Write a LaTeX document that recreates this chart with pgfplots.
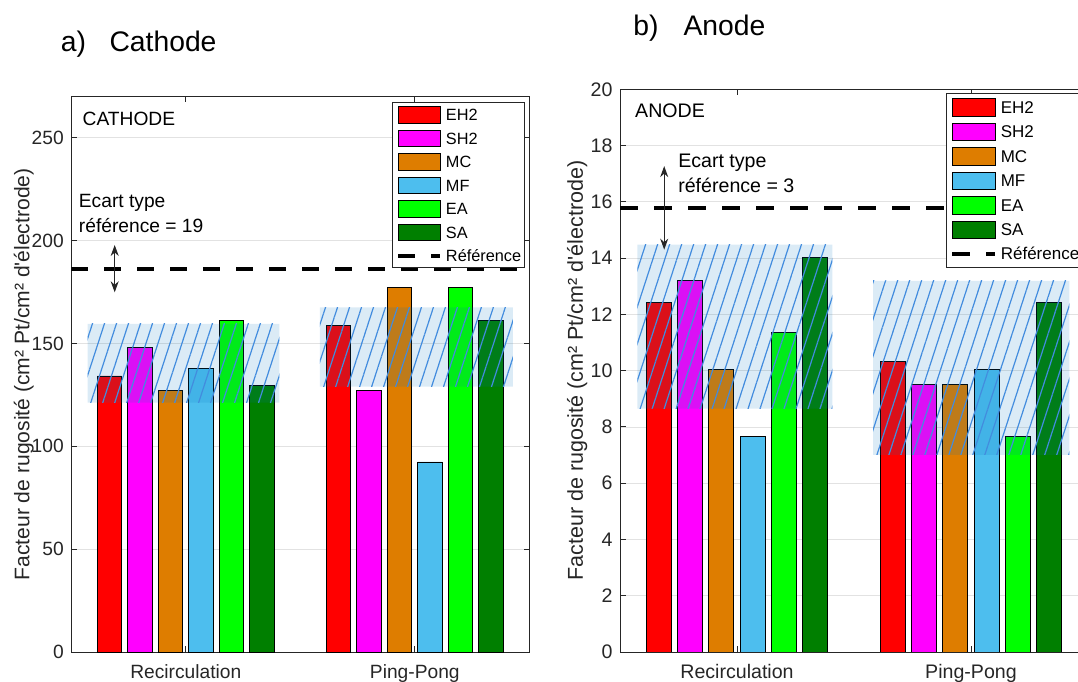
\documentclass[border=0pt]{standalone}
\usepackage{fontspec}
\setmainfont{Liberation Sans}
\usepackage{pgfplots}
\pgfplotsset{compat=1.18}
\usetikzlibrary{patterns.meta,arrows.meta}

\definecolor{cEH}{RGB}{255,0,0}
\definecolor{cSH}{RGB}{255,0,255}
\definecolor{cMC}{RGB}{222,125,0}
\definecolor{cMF}{RGB}{77,190,238}
\definecolor{cEA}{RGB}{0,255,0}
\definecolor{cSA}{RGB}{0,127,0}
\definecolor{axgray}{RGB}{38,38,38}
\definecolor{gridgray}{RGB}{226,226,226}
\definecolor{bandfill}{RGB}{0,114,189}
\definecolor{hatch}{RGB}{66,140,222}

\def\legW{41.7pt}\def\legH{8.35pt}

\pgfplotsset{
  barleg/.style={legend image code/.code={\draw[##1,/tikz/.cd,line width=0.9pt] (0pt,-\legH) rectangle (\legW,\legH);}},
  lineleg/.style={legend image code/.code={\draw[##1] (0pt,0pt) -- (\legW,0pt);}},
  mybar/.style={ybar, bar width=0.1067, bar shift=0pt, draw=black, line width=0.9pt, barleg},
  bandF/.style={forget plot, draw=none, fill=bandfill, fill opacity=0.14},
  bandH/.style={forget plot, draw=none, pattern={Lines[angle=72,distance=11.4pt,line width=1.2pt]}, pattern color=hatch},
  common/.style={
    scale only axis,
    xmin=0.5, xmax=2.5, ymin=0,
    xtick={1,2}, xticklabels={Recirculation,Ping-Pong},
    tick align=inside, tick pos=both,
    major tick length=5.5pt,
    ymajorgrids, grid style={draw=gridgray, line width=0.8pt},
    axis line style={draw=axgray, line width=0.9pt},
    every tick/.style={draw=axgray, line width=0.9pt},
    tick label style={text=axgray},
    /pgf/number format/assume math mode=true,
    xticklabel style={anchor=base, inner sep=0pt, yshift=-26.5pt},
    yticklabel style={anchor=east, inner sep=0pt, xshift=-7.4pt},
    ylabel style={anchor=base, inner sep=0pt, text=axgray},
    legend cell align=left,
  },
}

\begin{document}
\begin{tikzpicture}
\useasboundingbox (0pt,0pt) rectangle (1078pt,682pt);
\clip (0pt,0pt) rectangle (1078pt,682pt);

\node[anchor=base west,inner sep=0pt,font=\fontsize{28.3}{34}\selectfont] at (60.6pt,630pt) {a)};
\node[anchor=base west,inner sep=0pt,font=\fontsize{28.3}{34}\selectfont] at (109.3pt,630pt) {Cathode};
\node[anchor=base west,inner sep=0pt,font=\fontsize{28.3}{34}\selectfont] at (633.1pt,646.3pt) {b)};
\node[anchor=base west,inner sep=0pt,font=\fontsize{28.3}{34}\selectfont] at (683.3pt,646.3pt) {Anode};

% ---------------- Cathode ----------------
\begin{axis}[common,
  at={(71.3pt,30pt)}, anchor=south west,
  width=458pt, height=555.3pt,
  ymax=270, ytick={0,50,100,150,200,250},
  tick label style={font=\fontsize{19.2}{23}\selectfont},
  ylabel={Facteur de rugosité (cm² Pt/cm² d\textquotesingle électrode)},
  ylabel style={at={(rel axis cs:-0.0917,0.5)}, font=\fontsize{21.1}{25}\selectfont},
  legend style={at={(rel axis cs:1,1)}, anchor=north east, xshift=-4.3pt, yshift=-5.3pt,
    font=\fontsize{16.3}{19}\selectfont, draw=axgray, line width=0.8pt,
    inner xsep=3.4pt, inner ysep=3.85pt, row sep=5.9pt, column sep=4pt,
    nodes={inner sep=0pt, text height=14.05pt, text depth=2.65pt}},
]
\addplot[mybar, fill=cEH] coordinates {(0.6667,134.2) (1.6667,158.7)};
\addlegendentry{EH2}
\addplot[mybar, fill=cSH] coordinates {(0.8000,148.2) (1.8000,127.0)};
\addlegendentry{SH2}
\addplot[mybar, fill=cMC] coordinates {(0.9333,127.0) (1.9333,177.3)};
\addlegendentry{MC}
\addplot[mybar, fill=cMF] coordinates {(1.0667,137.7) (2.0667,92.4)};
\addlegendentry{MF}
\addplot[mybar, fill=cEA] coordinates {(1.2000,161.4) (2.2000,177.3)};
\addlegendentry{EA}
\addplot[mybar, fill=cSA] coordinates {(1.3333,129.5) (2.3333,161.4)};
\addlegendentry{SA}

\addplot[bandF] coordinates {(0.571,121.2) (1.409,121.2) (1.409,159.5) (0.571,159.5) (0.571,121.2)};
\addplot[bandH] coordinates {(0.571,121.2) (1.409,121.2) (1.409,159.5) (0.571,159.5) (0.571,121.2)};
\addplot[bandF] coordinates {(1.585,129.0) (2.428,129.0) (2.428,167.6) (1.585,167.6) (1.585,129.0)};
\addplot[bandH] coordinates {(1.585,129.0) (2.428,129.0) (2.428,167.6) (1.585,167.6) (1.585,129.0)};

\addplot[lineleg, black, line width=4pt, dash pattern=on 17pt off 16pt] coordinates {(0.5,186.1) (2.5,186.1)};
\addlegendentry{Référence}

\addplot[forget plot, axgray, line width=1.1pt, arrows={Stealth[length=11pt,width=8pt,inset=3.5pt]-Stealth[length=11pt,width=8pt,inset=3.5pt]}] coordinates {(0.6895,174.9) (0.6895,197.9)};

\node[anchor=base west, inner sep=0pt, font=\fontsize{19.2}{23}\selectfont] at (axis cs:0.5325,216.1) {Ecart type};
\node[anchor=base west, inner sep=0pt, font=\fontsize{19.2}{23}\selectfont] at (axis cs:0.5325,203.9) {référence = 19};
\node[anchor=base west, inner sep=0pt, font=\fontsize{19.2}{23}\selectfont] at (axis cs:0.5489,256.2) {CATHODE};
\end{axis}

% ---------------- Anode ----------------
\def\legW{43pt}\def\legH{8.75pt}
\begin{axis}[common,
  at={(620pt,30pt)}, anchor=south west,
  width=468pt, height=562.7pt,
  ymax=20, ytick={0,2,4,6,8,10,12,14,16,18,20},
  tick label style={font=\fontsize{19.6}{23.5}\selectfont},
  ylabel={Facteur de rugosité (cm² Pt/cm² d\textquotesingle électrode)},
  ylabel style={at={(rel axis cs:-0.0793,0.5)}, font=\fontsize{21.5}{26}\selectfont},
  legend style={at={(rel axis cs:0,1)}, anchor=north west, xshift=326pt, yshift=-4pt,
    font=\fontsize{17}{20}\selectfont, draw=axgray, line width=0.8pt,
    inner xsep=4pt, inner ysep=4.4pt, row sep=6.1pt, column sep=3.4pt,
    nodes={inner sep=0pt, text height=14.7pt, text depth=2.8pt}},
]
\addplot[mybar, fill=cEH] coordinates {(0.6667,12.43) (1.6667,10.31)};
\addlegendentry{EH2}
\addplot[mybar, fill=cSH] coordinates {(0.8000,13.21) (1.8000,9.51)};
\addlegendentry{SH2}
\addplot[mybar, fill=cMC] coordinates {(0.9333,10.05) (1.9333,9.51)};
\addlegendentry{MC}
\addplot[mybar, fill=cMF] coordinates {(1.0667,7.65) (2.0667,10.05)};
\addlegendentry{MF}
\addplot[mybar, fill=cEA] coordinates {(1.2000,11.36) (2.2000,7.65)};
\addlegendentry{EA}
\addplot[mybar, fill=cSA] coordinates {(1.3333,14.01) (2.3333,12.43)};
\addlegendentry{SA}

\addplot[bandF] coordinates {(0.574,8.65) (1.408,8.65) (1.408,14.48) (0.574,14.48) (0.574,8.65)};
\addplot[bandH] coordinates {(0.574,8.65) (1.408,8.65) (1.408,14.48) (0.574,14.48) (0.574,8.65)};
\addplot[bandF] coordinates {(1.582,7.01) (2.42,7.01) (2.42,13.19) (1.582,13.19) (1.582,7.01)};
\addplot[bandH] coordinates {(1.582,7.01) (2.42,7.01) (2.42,13.19) (1.582,13.19) (1.582,7.01)};

\addplot[lineleg, black, line width=4pt, dash pattern=on 17.5pt off 16.5pt] coordinates {(0.5,15.79) (2.5,15.79)};
\addlegendentry{Référence}

\addplot[forget plot, axgray, line width=1.1pt, arrows={Stealth[length=11pt,width=8pt,inset=3.5pt]-Stealth[length=11pt,width=8pt,inset=3.5pt]}] coordinates {(0.6889,14.30) (0.6889,17.27)};

\node[anchor=base west, inner sep=0pt, font=\fontsize{19.6}{23.5}\selectfont] at (axis cs:0.7483,17.23) {Ecart type};
\node[anchor=base west, inner sep=0pt, font=\fontsize{19.6}{23.5}\selectfont] at (axis cs:0.7483,16.34) {référence = 3};
\node[anchor=base west, inner sep=0pt, font=\fontsize{19.6}{23.5}\selectfont] at (axis cs:0.5641,18.99) {ANODE};
\end{axis}
\end{tikzpicture}
\end{document}
